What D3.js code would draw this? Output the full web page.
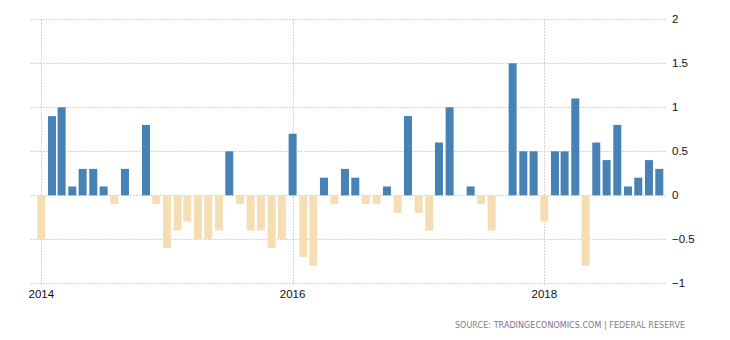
<!DOCTYPE html>
<html>
<head>
<meta charset="utf-8">
<script src="https://cdn.jsdelivr.net/npm/d3@7"></script>
<style>
  html, body { margin: 0; padding: 0; background: #fff; }
  svg { display: block; }
</style>
</head>
<body>
<svg id="chart" width="730" height="340"></svg>
<script>
// ---- data ----
const startMonth = "2014-01";
const values = [
  -0.5, 0.9, 1.0, 0.1, 0.3, 0.3, 0.1, -0.1, 0.3, 0, 0.8, -0.1,
  -0.6, -0.4, -0.3, -0.5, -0.5, -0.4, 0.5, -0.1, -0.4, -0.4, -0.6, -0.5,
  0.7, -0.7, -0.8, 0.2, -0.1, 0.3, 0.2, -0.1, -0.1, 0.1, -0.2, 0.9,
  -0.2, -0.4, 0.6, 1.0, 0, 0.1, -0.1, -0.4, 0, 1.5, 0.5, 0.5,
  -0.3, 0.5, 0.5, 1.1, -0.8, 0.6, 0.4, 0.8, 0.1, 0.2, 0.4, 0.3
];
const yTicks = [-1, -0.5, 0, 0.5, 1, 1.5, 2];
const xTickYears = ["2014", "2016", "2018"];
const sourceParts = ["SOURCE: ", "TRADINGECONOMICS.COM", " | ", "FEDERAL RESERVE"];

// ---- build ----
const parseMonth = d3.timeParse("%Y-%m");
const parseYear = d3.timeParse("%Y");
const start = parseMonth(startMonth);
const months = d3.timeMonth.range(start, d3.timeMonth.offset(start, values.length));
const data = months.map((m, i) => ({ date: m, value: values[i] }));

const svg = d3.select("#chart");

const x = d3.scaleTime()
  .domain([parseYear("2014"), parseYear("2018")])
  .range([41.3, 544.3]);
const y = d3.scaleLinear()
  .domain([-1, 2])
  .range([283.3, 19.3]);

const gridLeft = 31, gridRight = 667;

// horizontal gridlines
svg.append("g").selectAll("line")
  .data(yTicks)
  .join("line")
  .attr("x1", gridLeft).attr("x2", gridRight)
  .attr("y1", d => Math.round(y(d)) + 0.5)
  .attr("y2", d => Math.round(y(d)) + 0.5)
  .attr("stroke", "#c8c8c8")
  .attr("stroke-width", 1)
  .attr("stroke-dasharray", "1.5,1.5");

// vertical gridlines
svg.append("g").selectAll("line")
  .data(xTickYears.map(parseYear))
  .join("line")
  .attr("x1", d => Math.round(x(d)) + 0.5)
  .attr("x2", d => Math.round(x(d)) + 0.5)
  .attr("y1", y(2)).attr("y2", 286)
  .attr("stroke", "#c8c8c8")
  .attr("stroke-width", 1)
  .attr("stroke-dasharray", "1.5,1.5");

// bars
const barW = 8;
svg.append("g").selectAll("rect")
  .data(data.filter(d => d.value !== 0))
  .join("rect")
  .attr("x", d => x(d.date) - barW / 2)
  .attr("width", barW)
  .attr("y", d => y(Math.max(0, d.value)))
  .attr("height", d => Math.abs(y(d.value) - y(0)))
  .attr("fill", d => d.value >= 0 ? "steelblue" : "wheat");

// right axis labels
svg.append("g").selectAll("text")
  .data(yTicks)
  .join("text")
  .attr("x", 672)
  .attr("y", d => y(d))
  .attr("dy", "0.36em")
  .attr("font-family", "'Liberation Sans', Arial, sans-serif")
  .attr("font-size", "11.5px")
  .attr("fill", "#111")
  .text(d => d3.format("")(d));

// bottom axis labels
svg.append("g").selectAll("text")
  .data(xTickYears)
  .join("text")
  .attr("x", d => x(parseYear(d)))
  .attr("y", 298)
  .attr("text-anchor", "middle")
  .attr("font-family", "'Liberation Sans', Arial, sans-serif")
  .attr("font-size", "11.5px")
  .attr("fill", "#111")
  .text(d => d);

// source
const src = svg.append("text")
  .attr("x", 455)
  .attr("y", 328)
  .attr("font-family", "'DejaVu Sans', Verdana, sans-serif")
  .attr("font-size", "8px")
  .attr("fill", "#808080")
  .attr("textLength", 230)
  .attr("lengthAdjust", "spacing")
  .style("white-space", "pre");
src.selectAll("tspan")
  .data(sourceParts)
  .join("tspan")
  .attr("fill", (d, i) => i === 1 ? "#7a7090" : "#808080")
  .text(d => d);
</script>
</body>
</html>
